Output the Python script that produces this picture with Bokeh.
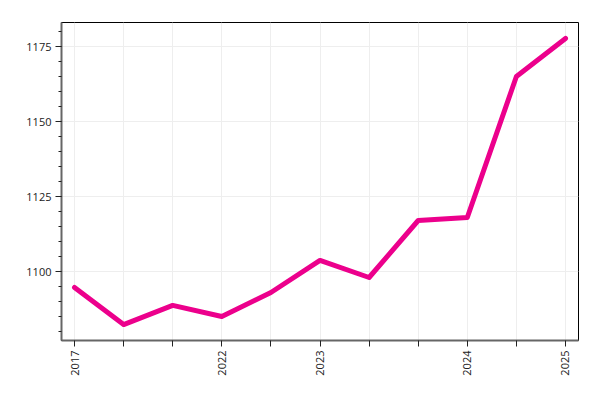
import math
from bokeh.plotting import figure
from bokeh.embed import file_html
from bokeh.resources import INLINE
from bokeh.models import FixedTicker, SingleIntervalTicker, Range1d

x_pos = list(range(11))
tick_labels = ["2017", "", "", "2022", "", "2023", "", "", "2024", "", "2025"]
values = [1094.7, 1082.3, 1088.7, 1085.0, 1093.0, 1103.7, 1098.0, 1117.0, 1118.0, 1165.0, 1177.7]

p = figure(width=592, height=392, output_backend="svg", toolbar_location=None,
           x_range=Range1d(-0.265, 10.265), y_range=Range1d(1077, 1183),
           min_border_left=61, min_border_right=14, min_border_top=22, min_border_bottom=52)

p.line(x_pos, values, line_color="#ec008c", line_width=5, line_cap="round", line_join="round")

p.xaxis.ticker = FixedTicker(ticks=x_pos)
p.xaxis.major_label_overrides = {i: t for i, t in zip(x_pos, tick_labels)}
p.xaxis.major_label_orientation = math.pi / 2
p.xaxis.minor_tick_line_color = None
p.yaxis.ticker = SingleIntervalTicker(interval=25, num_minor_ticks=5)

for ax in (p.xaxis, p.yaxis):
    ax.axis_line_color = "#666666"
    ax.axis_line_width = 2
    ax.major_tick_line_color = "#222222"
    ax.major_tick_in = 0
    ax.major_tick_out = 6
    ax.major_label_text_font = "Open Sans"
    ax.major_label_text_font_size = "11px"
    ax.major_label_text_color = "#222222"
    ax.major_label_standoff = 4
p.yaxis.minor_tick_line_color = "#222222"
p.yaxis.minor_tick_in = 0
p.yaxis.minor_tick_out = 3

p.xgrid.grid_line_color = "#eeeeee"
p.ygrid.grid_line_color = "#eeeeee"
p.ygrid.ticker = SingleIntervalTicker(interval=25)
p.outline_line_color = "black"
p.outline_line_width = 1
p.outline_line_alpha = 1
p.background_fill_color = "white"

open("out.html", "w").write(file_html(p, INLINE))
